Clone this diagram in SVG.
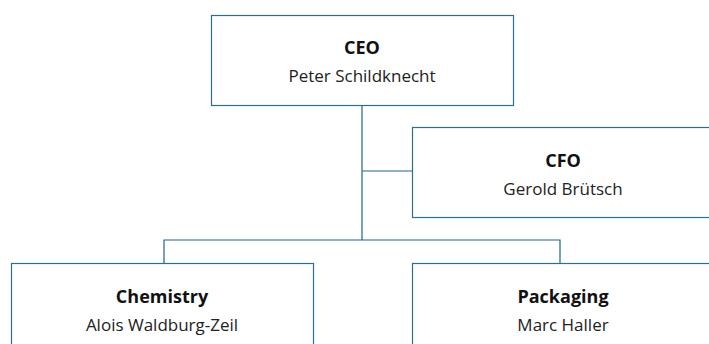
<svg xmlns="http://www.w3.org/2000/svg" width="709" height="344" viewBox="0 0 709 344">
<style>
.box{fill:#fff;stroke:#2a6f8c;stroke-width:1.2}
.ln{fill:none;stroke:#1d6684;stroke-width:1.2}
.t{font-family:"Open Sans","Noto Sans",sans-serif;font-size:18px;fill:#111;text-anchor:middle}
.b{font-weight:bold}
.n{font-weight:normal;font-size:17px;fill:#222}
</style>
<rect width="709" height="344" fill="#fff"/>
<g id="connectors">
<path class="ln" d="M362,105V240M362,171H412M164,263V240H560V263"/>
</g>
<g id="ceo">
<rect class="box" x="211.5" y="15.5" width="302" height="90"/>
<text class="t b" x="362" y="54">CEO</text>
<text class="t n" x="362" y="82">Peter Schildknecht</text>
</g>
<g id="cfo">
<rect class="box" x="412.5" y="127.5" width="302" height="90"/>
<text class="t b" x="563" y="167">CFO</text>
<text class="t n" x="563" y="195">Gerold Brütsch</text>
</g>
<g id="chemistry">
<rect class="box" x="11.5" y="263.5" width="302" height="90"/>
<text class="t b" x="162" y="303">Chemistry</text>
<text class="t n" x="162" y="331">Alois Waldburg-Zeil</text>
</g>
<g id="packaging">
<rect class="box" x="412.5" y="263.5" width="302" height="90"/>
<text class="t b" x="563" y="303">Packaging</text>
<text class="t n" x="563" y="331">Marc Haller</text>
</g>
</svg>
